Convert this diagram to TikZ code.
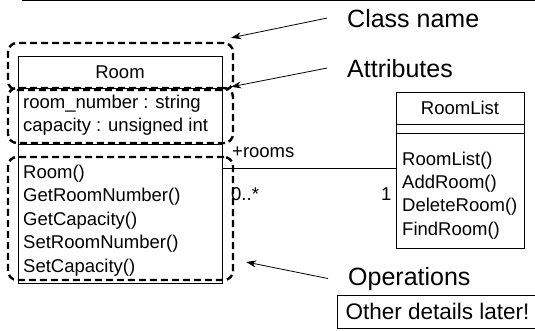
\documentclass[tikz,border=0pt]{standalone}
\usepackage{fontspec}
\setmainfont{Liberation Sans}
\usetikzlibrary{arrows.meta, positioning, calc}
\tikzstyle{compart} = [rectangle, draw, line width=1pt, inner sep=0pt, font=\fontsize{18.5}{22}\selectfont]
\tikzstyle{members} = [anchor=north west, inner sep=0pt, align=left, font=\fontsize{18.5}{23.4}\selectfont]
\tikzstyle{hilite} = [rectangle, draw, line width=2.4pt, rounded corners=9pt, dash pattern=on 7pt off 4pt]
\tikzstyle{callout} = [line width=0.8pt, -{Stealth[length=10pt,width=7pt]}]
\tikzstyle{bigtext} = [anchor=base west, inner sep=0pt, font=\fontsize{25}{28}\selectfont]
\tikzstyle{mult} = [anchor=base west, inner sep=0pt, font=\fontsize{18.5}{22}\selectfont]

\begin{document}
\begin{tikzpicture}[x=1pt, y=-1pt]
    \useasboundingbox (0,0) rectangle (535,330);
    \draw[line width=1.5pt] (22,0.5) -- (535,0.5);

    % Room class
    \node (roomname) [compart, minimum width=204pt, minimum height=32pt] at (120,72) {Room};
    \node (roomattr) [compart, minimum width=204pt, minimum height=56pt] at (120,116) {};
    \node (roomops) [compart, minimum width=204pt, minimum height=139pt] at (120,213.5) {};
    \node (attrtext) [members] at (23,94.5) {room\_number : string\\capacity : unsigned int};
    \node (opstext) [members] at (23,164.8) {Room()\\GetRoomNumber()\\GetCapacity()\\SetRoomNumber()\\SetCapacity()};

    % RoomList class
    \node (rlname) [compart, minimum width=128pt, minimum height=32pt] at (460,108) {RoomList};
    \node (rlattr) [compart, minimum width=128pt, minimum height=9pt] at (460,128.5) {};
    \node (rlops) [compart, minimum width=128pt, minimum height=115pt] at (460,190.5) {};
    \node (rltext) [members] at (402,151.5) {RoomList()\\AddRoom()\\DeleteRoom()\\FindRoom()};

    % association
    \coordinate (assocL) at ($(roomops.north east)+(0,25)$);
    \draw[line width=0.8pt] (assocL) -- (assocL -| rlops.west);
    \node (role) [mult] at (232,157) {+rooms};
    \node (manyend) [mult] at (231,200) {0..*};
    \node (oneend) [mult] at (381,200) {1};

    % dashed groups
    \node (namebox) [hilite, minimum width=225pt, minimum height=47pt] at (120.5,66.5) {};
    \node (attrbox) [hilite, minimum width=225pt, minimum height=55pt] at (120.5,115.5) {};
    \node (opsbox) [hilite, minimum width=225pt, minimum height=123pt] at (120.5,218.5) {};

    % callouts
    \node (clsname) [bigtext] at (347,27) {Class name};
    \node (attrlbl) [bigtext] at (347,77) {Attributes};
    \node (opslbl) [bigtext] at (348,285) {Operations};
    \draw[callout] ([xshift=-20pt]clsname.west) -- ([shift={(-3,-4)}]namebox.north east);
    \draw[callout] ([xshift=-20pt]attrlbl.west) -- ([xshift=-3pt]attrbox.north east);
    \draw[callout] ([xshift=-20pt]opslbl.west) -- ([shift={(12,43.5)}]opsbox.east);

    \node (later) [draw, line width=1pt, anchor=north west, inner sep=8pt, font=\fontsize{22.5}{26}\selectfont] at (337,295) {Other details later!};
\end{tikzpicture}
\end{document}
